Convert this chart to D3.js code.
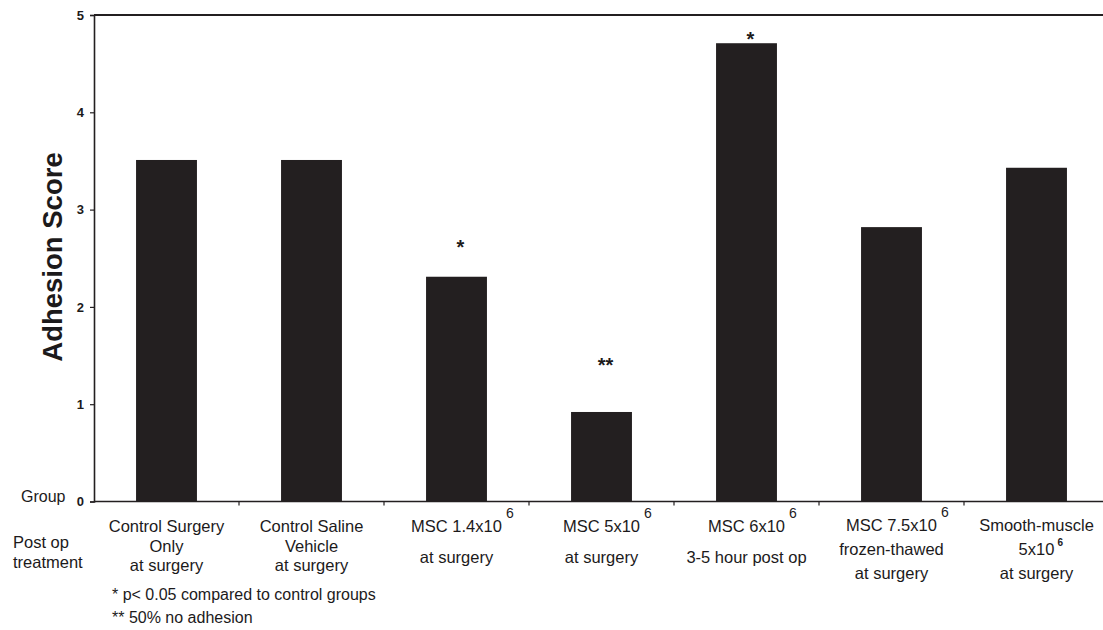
<!DOCTYPE html>
<html>
<head>
<meta charset="utf-8">
<script src="https://cdn.jsdelivr.net/npm/d3@7"></script>
<style>
  body { margin: 0; background: #fff; }
  svg { display: block; }
  text { font-family: "Liberation Sans", Arial, Helvetica, sans-serif; fill: #1c1a1b; }
</style>
</head>
<body>
<div id="chart"></div>
<script>
// values
const groups = ["CS", "CSV", "MSC1.4", "MSC5", "MSC6", "MSC7.5", "SM5"];
const scores = [3.51, 3.51, 2.31, 0.92, 4.71, 2.82, 3.43];
const marks = ["", "", "*", "**", "*", "", ""];
// height (in score units) where each significance mark sits
const markLevels = [0, 0, 2.66, 1.45, 4.80, 0, 0];
const yTicks = [0, 1, 2, 3, 4, 5];

// label lines under each bar: [text, superscript]
const labelLines = [
    [["Control Surgery", ""], ["Only", ""], ["at surgery", ""]],
    [["Control Saline", ""], ["Vehicle", ""], ["at surgery", ""]],
    [["MSC 1.4x10", "6"], ["at surgery", ""]],
    [["MSC 5x10", "6"], ["at surgery", ""]],
    [["MSC 6x10", "6"], ["3-5 hour post op", ""]],
    [["MSC 7.5x10", "6"], ["frozen-thawed", ""], ["at surgery", ""]],
    [["Smooth-muscle", ""], ["5x10", "6"], ["at surgery", ""]]
];
const footnotes = ["* p< 0.05 compared to control groups", "** 50% no adhesion"];

const width = 1103, height = 630;
const svg = d3.select("#chart").append("svg")
    .attr("width", width)
    .attr("height", height);

const x = d3.scaleBand()
    .domain(groups)
    .range([94, 1109])
    .paddingInner(0.58)
    .paddingOuter(0.29);

const y = d3.scaleLinear()
    .domain([0, 5])
    .range([501.5, 15]);

const ink = "#231f20";

// bars
svg.append("g")
    .selectAll("rect")
    .data(groups)
    .join("rect")
    .attr("x", d => x(d))
    .attr("width", x.bandwidth())
    .attr("y", (d, i) => y(scores[i]))
    .attr("height", (d, i) => y(0) - y(scores[i]))
    .attr("fill", ink);

// significance marks (asterisk centre ~0.58em above baseline)
svg.append("g")
    .selectAll("text")
    .data(groups)
    .join("text")
    .attr("x", d => x(d) + x.bandwidth() / 2 + 4)
    .attr("y", (d, i) => y(markLevels[i]) + 11.5)
    .attr("text-anchor", "middle")
    .style("font-size", "20px")
    .style("font-weight", "bold")
    .text((d, i) => marks[i]);

// y axis
const yAxis = svg.append("g")
    .attr("transform", "translate(94,0)")
    .call(d3.axisLeft(y).tickValues(yTicks).tickSize(4).tickPadding(6).tickFormat(d3.format("d")));
yAxis.select(".domain").attr("stroke", ink).attr("stroke-width", 1.6);
yAxis.selectAll(".tick line").attr("stroke", ink).attr("stroke-width", 1.2);
yAxis.selectAll(".tick text")
    .style("font-size", "13px")
    .style("font-weight", "bold")
    .style("font-family", "'Liberation Sans', Arial, sans-serif")
    .attr("fill", ink);

// top frame line
svg.append("line")
    .attr("x1", 94).attr("x2", width)
    .attr("y1", y(5)).attr("y2", y(5))
    .attr("stroke", ink).attr("stroke-width", 1.8);

// x axis with ticks at category boundaries
const xAxis = svg.append("g")
    .attr("transform", `translate(0,${y(0)})`)
    .call(d3.axisBottom(x).tickSize(0).tickFormat(""));
xAxis.select(".domain").attr("d", `M94,0H${width}`).attr("stroke", ink).attr("stroke-width", 1.6);

const gap = (x.step() - x.bandwidth()) / 2;
xAxis.append("g")
    .selectAll("line")
    .data(groups.slice(1))
    .join("line")
    .attr("x1", d => x(d) - gap)
    .attr("x2", d => x(d) - gap)
    .attr("y1", 0).attr("y2", 4)
    .attr("stroke", ink).attr("stroke-width", 1.2);

// y axis title
svg.append("text")
    .attr("transform", "translate(62,257) rotate(-90)")
    .attr("text-anchor", "middle")
    .style("font-size", "27.5px")
    .style("font-weight", "bold")
    .text("Adhesion Score");

// row labels at left
svg.append("text").attr("x", 21).attr("y", 502).style("font-size", "16px").text("Group");
svg.append("text").attr("x", 13).attr("y", 548).style("font-size", "16.5px").text("Post op");
svg.append("text").attr("x", 13).attr("y", 568).style("font-size", "16.5px").text("treatment");

// baselines for each line of the category labels
function baselines(i, n) {
    if (n === 2) return [532, 563];
    if (i >= 5) return [531, 555, 579];
    return [532, 552, 571];
}

const labels = svg.append("g");
labelLines.forEach((lines, i) => {
    const cx = x(groups[i]) + x.bandwidth() / 2;
    const ys = baselines(i, lines.length);
    lines.forEach(([txt, sup], j) => {
        const t = labels.append("text")
            .attr("x", cx)
            .attr("y", ys[j])
            .attr("text-anchor", "middle")
            .style("font-size", "16.5px")
            .text(txt);
        if (sup) {
            const w = t.node().getComputedTextLength();
            const small = j > 0;
            labels.append("text")
                .attr("x", cx + w / 2 + (small ? 3 : 4))
                .attr("y", small ? ys[j] - 9 : ys[j] - 14)
                .style("font-size", small ? "10px" : "14px")
                .style("font-weight", small ? "bold" : "normal")
                .text(sup);
        }
    });
});

// footnotes
svg.append("g")
    .selectAll("text")
    .data(footnotes)
    .join("text")
    .attr("x", 112)
    .attr("y", (d, i) => 600 + i * 23)
    .style("font-size", "16px")
    .text(d => d);
</script>
</body>
</html>
